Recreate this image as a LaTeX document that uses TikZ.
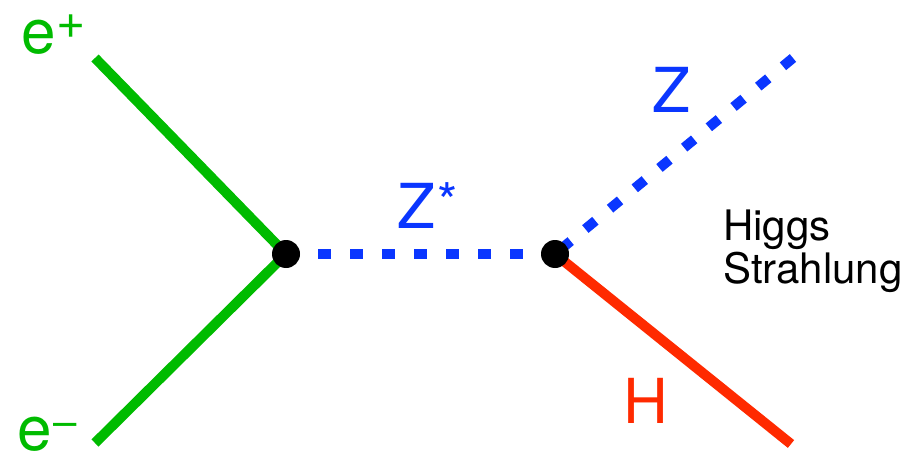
\documentclass[tikz,border=0pt]{standalone}
\usepackage{fontspec}
\setmainfont{TeX Gyre Heros}
\definecolor{egreen}{HTML}{00BB00}
\definecolor{zblue}{HTML}{0A36FF}
\definecolor{hred}{HTML}{FF2A00}
\newcommand{\supfix}[3]{\raisebox{#1}{\fontsize{#2}{#2}\selectfont #3}}
\begin{document}
\begin{tikzpicture}[x=1pt,y=-1pt,
  fermion/.style={line width=10pt,egreen},
  zline/.style={line width=10pt,zblue,dash pattern=on 13pt off 19pt},
  hline/.style={line width=10pt,hred},
  vtx/.style={circle,fill=black,minimum size=28pt,inner sep=0pt},
  biglabel/.style={inner sep=0pt,anchor=base west,font=\fontsize{62}{62}\selectfont},
  smalllabel/.style={inner sep=0pt,anchor=base west,align=left,font=\fontsize{42}{43}\selectfont}]
\useasboundingbox (0,0) rectangle (922,463);
\coordinate (v1) at (286,254);
\coordinate (v2) at (555,254);
\coordinate (ep) at (95,58);
\coordinate (em) at (95,443);
\coordinate (zend) at (793,58);
\coordinate (hend) at (791,444);
\draw[fermion] (ep) -- (v1);
\draw[fermion] (em) -- (v1);
\draw[zline] (v1) -- (v2);
\draw[zline,dash phase=24.7pt] (v2) -- (zend);
\draw[hline] (v2) -- (hend);
\node[vtx] (n1) at (v1) {};
\node[vtx] (n2) at (v2) {};
\node[biglabel,egreen] (lep) at (21,53) {e\hspace{1pt}\supfix{15pt}{50}{+}};
\node[biglabel,egreen] (lem) at (17,450) {e\hspace{2pt}\supfix{14pt}{42}{–}};
\node[biglabel,zblue] (lzs) at (397,228) {Z\hspace{2pt}\supfix{8pt}{52}{*}};
\node[biglabel,zblue] (lz) at (652,112) {Z};
\node[biglabel,hred] (lh) at (623,423) {H};
\node[smalllabel] (lhs) at (723,283) {Higgs\\Strahlung};
\end{tikzpicture}
\end{document}
